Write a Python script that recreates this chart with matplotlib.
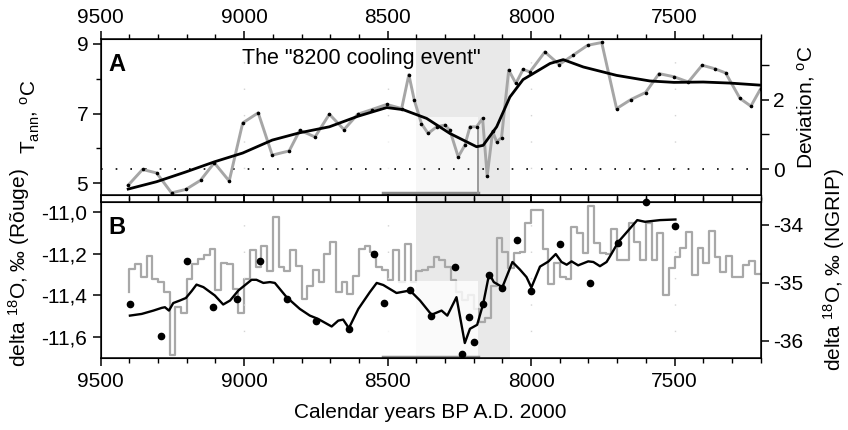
import matplotlib
matplotlib.use('Agg')
import matplotlib.pyplot as plt
import matplotlib.transforms as mtransforms
from matplotlib.patches import Rectangle
from matplotlib.ticker import FixedLocator, MultipleLocator
import numpy as np

plt.rcParams['font.family'] = ['Liberation Sans', 'DejaVu Sans']
plt.rcParams['axes.unicode_minus'] = False
plt.rcParams['mathtext.fontset'] = 'custom'
plt.rcParams['mathtext.rm'] = 'Liberation Sans'
plt.rcParams['mathtext.default'] = 'regular'

# --- panel A: annual temperature (pollen based) ---
t_years = [9404, 9354, 9305, 9253, 9203, 9152, 9104, 9052, 9005, 8951, 8902, 8843,
           8806, 8753, 8703, 8652, 8604, 8556, 8503, 8451, 8426, 8407, 8382, 8359,
           8329, 8300, 8283, 8254, 8231, 8213, 8190, 8169, 8153, 8134, 8120, 8103,
           8078, 8053, 8028, 8004, 7952, 7902, 7853, 7803, 7754, 7702, 7652, 7601,
           7554, 7502, 7452, 7404, 7360, 7322, 7272, 7234, 7200]
t_ann = [4.95, 5.40, 5.30, 4.73, 4.83, 5.09, 5.59, 5.07, 6.73, 7.02, 5.81, 5.93,
         6.52, 6.33, 6.98, 6.54, 6.98, 7.11, 7.26, 7.14, 8.11, 7.38, 6.71, 6.43,
         6.62, 6.67, 6.52, 5.76, 6.09, 6.62, 6.62, 6.86, 5.21, 6.49, 6.19, 6.31,
         8.24, 7.86, 8.26, 8.19, 8.76, 8.40, 8.67, 8.95, 9.03, 7.14, 7.40, 7.60,
         8.14, 8.05, 7.90, 8.38, 8.28, 8.16, 7.43, 7.21, 7.71]

fit_years = [9404, 9305, 9203, 9103, 9005, 8902, 8806, 8703, 8604, 8503, 8446, 8364,
             8283, 8190, 8167, 8120, 8074, 8028, 7934, 7888, 7818, 7702, 7586, 7502,
             7400, 7307, 7200]
fit_t = [4.84, 5.05, 5.33, 5.62, 5.87, 6.24, 6.45, 6.62, 6.92, 7.17, 7.11, 6.86,
         6.43, 6.05, 6.09, 6.62, 7.47, 7.97, 8.43, 8.54, 8.33, 8.09, 7.93, 7.89,
         7.90, 7.87, 7.81]

# --- panel B: NGRIP d18O, 20-yr steps (bin start years) ---
ngrip_years = np.arange(9400, 7200, -20)
ngrip = [-34.76, -34.68, -34.90, -34.53, -34.94, -34.98, -35.15, -36.24, -35.42, -35.51,
         -34.93, -34.68, -34.58, -34.51, -34.42, -35.12, -34.65, -34.67, -35.11, -35.51,
         -34.93, -34.43, -34.72, -34.36, -34.80, -33.86, -34.72, -34.80, -34.44, -34.71,
         -35.28, -35.05, -34.78, -34.98, -34.50, -34.29, -35.15, -34.99, -35.19, -34.88,
         -34.42, -34.36, -34.46, -34.72, -34.78, -34.95, -34.43, -34.98, -34.33, -34.98,
         -34.79, -34.78, -34.73, -34.56, -34.60, -34.73, -34.95, -35.15, -35.30, -35.20,
         -35.45, -35.67, -35.60, -35.05, -34.22, -34.46, -34.75, -34.49, -34.46, -33.96,
         -33.75, -33.75, -34.42, -35.01, -34.66, -34.90, -34.94, -34.03, -34.14, -34.49,
         -33.67, -34.32, -34.49, -34.50, -34.07, -34.60, -34.60, -33.96, -34.30, -34.60,
         -33.96, -34.60, -34.14, -35.21, -34.75, -34.55, -34.40, -34.13, -34.86, -34.39,
         -34.65, -34.10, -34.56, -34.82, -34.53, -34.89, -34.90, -34.69, -34.63, -34.85]
ngrip_start = -35.15

# --- panel B: Rouge d18O ---
rouge_line_years = [9398, 9357, 9316, 9287, 9276, 9262, 9247, 9224, 9203, 9183, 9166, 9142,
                    9102, 9073, 9049, 9020, 8974, 8957, 8933, 8910, 8893, 8852, 8806, 8771,
                    8742, 8695, 8672, 8655, 8635, 8602, 8562, 8538, 8515, 8469, 8422, 8387,
                    8347, 8312, 8292, 8260, 8231, 8213, 8188, 8167, 8146, 8130, 8100, 8065,
                    8039, 8016, 7999, 7969, 7940, 7914, 7894, 7876, 7859, 7836, 7801, 7783,
                    7760, 7737, 7725, 7696, 7630, 7603, 7551, 7497]
rouge_line = [-11.496, -11.488, -11.472, -11.459, -11.456, -11.472, -11.436, -11.424, -11.412,
              -11.379, -11.348, -11.360, -11.400, -11.443, -11.424, -11.376, -11.325, -11.325,
              -11.340, -11.336, -11.340, -11.408, -11.464, -11.496, -11.512, -11.548, -11.520,
              -11.515, -11.556, -11.464, -11.384, -11.340, -11.350, -11.388, -11.376, -11.424,
              -11.492, -11.472, -11.496, -11.408, -11.627, -11.559, -11.540, -11.440, -11.296,
              -11.336, -11.360, -11.240, -11.276, -11.312, -11.362, -11.262, -11.238, -11.202,
              -11.240, -11.253, -11.237, -11.256, -11.237, -11.240, -11.260, -11.240, -11.213,
              -11.144, -11.040, -11.048, -11.040, -11.037]

rouge_dot_years = [9398, 9290, 9198, 9110, 9024, 8943, 8850, 8748, 8635, 8548, 8511, 8422,
                   8349, 8266, 8242, 8215, 8200, 8169, 8146, 8100, 8048, 7999, 7899, 7795,
                   7698, 7600, 7499]
rouge_dots = [-11.440, -11.595, -11.237, -11.456, -11.416, -11.235, -11.419, -11.524, -11.561,
              -11.200, -11.436, -11.374, -11.496, -11.264, -11.680, -11.504, -11.622, -11.440,
              -11.304, -11.362, -11.136, -11.380, -11.152, -11.340, -11.147, -10.953, -11.070]

x_major = [9500, 9000, 8500, 8000, 7500]
rouge_ticks = [-11.0, -11.2, -11.4, -11.6]
rouge_labels = ['-11,0', '-11,2', '-11,4', '-11,6']
ngrip_ticks = [-34, -35, -36]

event_start, event_end = 8400, 8075
t_offset = 5.4

fig = plt.figure(figsize=(8.48, 4.3), dpi=100)
axA = fig.add_axes([0.1187, 0.5465, 0.7783, 0.3628])
axB = fig.add_axes([0.1187, 0.1667, 0.7783, 0.3628])
axA.set_facecolor('none')
axB.set_facecolor('none')

# grey band of the cooling event, across both panels
trans = mtransforms.blended_transform_factory(axA.transData, fig.transFigure)
fig.patches.append(Rectangle((event_start, 0.1667), event_end - event_start, 0.9093 - 0.1667,
                             transform=trans, facecolor='#e9e9e9', edgecolor='none', zorder=-1))

for ax in (axA, axB):
    ax.set_xlim(9500, 7200)
    ax.xaxis.set_major_locator(FixedLocator(x_major))
    ax.xaxis.set_minor_locator(MultipleLocator(100))
    for sp in ax.spines.values():
        sp.set_linewidth(1.1)
    for xv in x_major[1:]:
        ax.axvline(xv, color='#d4d4d4', lw=1, ls=(0, (1, 18)), zorder=0.2)

# panel A
axA.set_ylim(4.67, 9.13)
axA.axhline(t_offset, color='k', lw=1.2, ls=(0, (1, 7.8)), zorder=1)
axA.add_patch(Rectangle((8516, 4.67), 8184 - 8516, 6.9 - 4.67, facecolor='white',
                        alpha=0.65, edgecolor='none', zorder=0.5))
axA.plot([8516, 8184], [4.72, 4.72], color='#8c8c8c', lw=2.5, zorder=1.6)
axA.plot([8184, 8184], [4.72, 6.62], color='#9a9a9a', lw=1.4, zorder=1.6)
axA.plot(t_years, t_ann, color='#a6a6a6', lw=2.1, zorder=2)
axA.plot(t_years, t_ann, ls='none', marker='o', ms=1.6, color='k', zorder=3)
axA.plot(fit_years, fit_t, color='k', lw=2, zorder=4)
axA.text(0.012, 0.835, 'A', transform=axA.transAxes, fontsize=17, fontweight='bold',
         ha='left', va='center')
axA.text(9008, 8.58, 'The "8200 cooling event"', fontsize=15.5, ha='left', va='center')

axA.yaxis.set_major_locator(FixedLocator([5, 7, 9]))
axA.yaxis.set_minor_locator(FixedLocator([6, 8]))
axA.tick_params(axis='x', which='both', top=True, labeltop=True, bottom=True,
                labelbottom=False, direction='out')
axA.tick_params(axis='both', which='major', labelsize=15, length=6, width=1.1, pad=3)
axA.tick_params(axis='both', which='minor', length=3.5, width=1)
axA.set_ylabel('T$_{ann}$, $^{o}$C', fontsize=15)
axA.yaxis.set_label_coords(-0.089, 0.5)

axA2 = axA.twinx()
axA2.set_ylim(4.67 - t_offset, 9.13 - t_offset)
axA2.yaxis.set_major_locator(FixedLocator([0, 2]))
axA2.yaxis.set_minor_locator(FixedLocator([1, 3]))
axA2.tick_params(axis='y', which='major', labelsize=15, length=6, width=1.1, pad=3)
axA2.tick_params(axis='y', which='minor', length=6, width=1)
axA2.set_ylabel('Deviation, $^{o}$C', fontsize=15)
axA2.yaxis.set_label_coords(1.052, 0.56)

# panel B
axB2 = axB.twinx()
axB.set_zorder(axB2.get_zorder() + 1)
axB.patch.set_visible(False)

step_x = np.concatenate([[ngrip_years[0]], ngrip_years, [7200]])
step_y = np.concatenate([[ngrip_start], ngrip, [ngrip[-1]]])
axB2.step(step_x, step_y, where='post', color='#a8a8a8', lw=1.6)
axB2.set_ylim(-36.3, -33.61)
axB2.yaxis.set_major_locator(FixedLocator(ngrip_ticks))
axB2.tick_params(axis='y', which='major', labelsize=15, length=6, width=1.1, pad=3)
axB2.set_ylabel('delta $^{18}$O, \u2030 (NGRIP)', fontsize=15)
axB2.yaxis.set_label_coords(1.092, 0.57)

axB.set_ylim(-11.70, -10.955)
axB.add_patch(Rectangle((8516, -11.70), 8184 - 8516, -11.33 + 11.70, facecolor='white',
                        alpha=0.8, edgecolor='none', zorder=0.5))
axB.plot([8516, 8184], [-11.693, -11.693], color='#8c8c8c', lw=2.5, zorder=1.6)
axB.plot(rouge_line_years, rouge_line, color='k', lw=1.7, zorder=3)
axB.plot(rouge_dot_years, rouge_dots, ls='none', marker='o', ms=4.5, color='k',
         zorder=4, clip_on=False)
axB.text(0.012, 0.84, 'B', transform=axB.transAxes, fontsize=17, fontweight='bold',
         ha='left', va='center')
axB.yaxis.set_major_locator(FixedLocator(rouge_ticks))
axB.set_yticklabels(rouge_labels)
axB.tick_params(axis='x', which='both', top=True, labeltop=False, bottom=True,
                labelbottom=True, direction='out')
axB.tick_params(axis='both', which='major', labelsize=15, length=6, width=1.1, pad=4)
axB.tick_params(axis='both', which='minor', length=3.5, width=1)
axB.set_ylabel('delta $^{18}$O, \u2030 (R\u00f5uge)', fontsize=15)
axB.yaxis.set_label_coords(-0.104, 0.58)
axB.set_xlabel('Calendar years BP A.D. 2000', fontsize=15)
axB.xaxis.set_label_coords(0.5, -0.285)

fig.savefig('out.png', dpi=100)
